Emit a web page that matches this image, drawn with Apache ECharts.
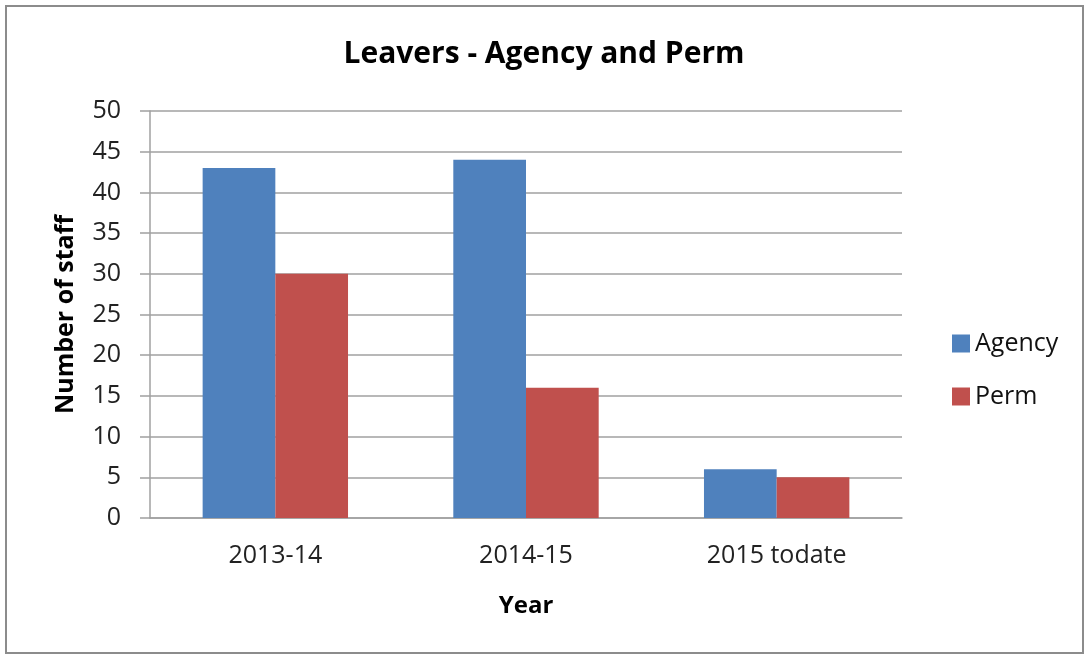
<!DOCTYPE html>
<html>
<head>
<meta charset="utf-8">
<script src="https://cdn.jsdelivr.net/npm/echarts@6/dist/echarts.min.js"></script>
<style>
  html, body { margin: 0; padding: 0; background: #fff; }
  #chart { width: 1088px; height: 655px; }
</style>
</head>
<body>
<div id="chart"></div>
<script>
const categories = ['2013-14', '2014-15', '2015 todate'];
const agency = [43, 44, 6];
const perm = [30, 16, 5];
const yTicks = [0, 5, 10, 15, 20, 25, 30, 35, 40, 45, 50];

const FONT = '"Open Sans", "Noto Sans", sans-serif';
const chart = echarts.init(document.getElementById('chart'));

chart.setOption({
  backgroundColor: '#fff',
  animation: false,
  title: {
    text: 'Leavers - Agency and Perm',
    left: 'center',
    top: 34,
    textStyle: { fontFamily: FONT, fontSize: 30, fontWeight: 'bold', color: '#000' }
  },
  legend: {
    orient: 'vertical',
    left: 947,
    top: 326,
    itemWidth: 18,
    itemHeight: 18,
    itemGap: 28,
    icon: 'rect',
    textStyle: { fontFamily: FONT, fontSize: 25, color: '#111' },
    data: ['Agency', 'Perm']
  },
  grid: { left: 150, right: 186, top: 111, bottom: 137 },
  xAxis: {
    type: 'category',
    data: categories,
    name: 'Year',
    nameLocation: 'middle',
    nameGap: 76,
    nameTextStyle: { fontFamily: FONT, fontSize: 24, fontWeight: 'bold', color: '#000' },
    axisLine: { lineStyle: { color: '#a0a0a0', width: 1.5 } },
    axisTick: { show: false },
    axisLabel: { fontFamily: FONT, fontSize: 25, color: '#222', margin: 25 }
  },
  yAxis: {
    type: 'value',
    min: 0,
    max: 50,
    interval: 5,
    name: 'Number of staff',
    nameLocation: 'middle',
    nameGap: 72,
    nameTextStyle: { fontFamily: FONT, fontSize: 25, fontWeight: 'bold', color: '#000' },
    axisLine: { show: true, lineStyle: { color: '#a0a0a0', width: 1.5 } },
    axisTick: { show: true, length: 10, lineStyle: { color: '#a0a0a0', width: 1.5 } },
    splitLine: { lineStyle: { color: '#a0a0a0', width: 1.5 } },
    axisLabel: {
      fontFamily: FONT, fontSize: 25, color: '#222', margin: 29,
      formatter: v => (yTicks.includes(v) ? String(v) : '')
    }
  },
  series: [
    {
      name: 'Agency', type: 'bar', data: agency,
      barGap: '0%', barCategoryGap: '42%',
      itemStyle: { color: '#4F81BD' }
    },
    {
      name: 'Perm', type: 'bar', data: perm,
      barGap: '0%', barCategoryGap: '42%',
      itemStyle: { color: '#C0504D' }
    }
  ],
  graphic: [
    {
      type: 'rect',
      shape: { x: 6, y: 6, width: 1077, height: 647 },
      style: { fill: 'none', stroke: '#8c8c8c', lineWidth: 2 },
      silent: true
    }
  ]
});
</script>
</body>
</html>
